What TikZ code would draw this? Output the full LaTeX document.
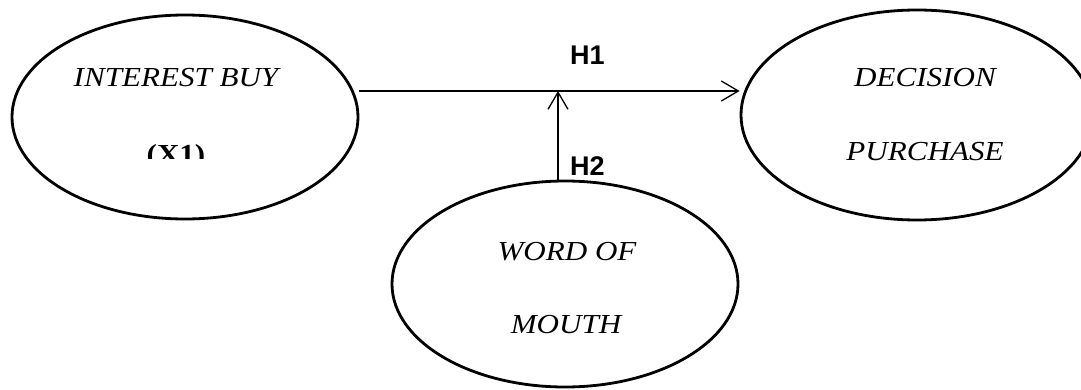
\documentclass[tikz,border=0pt]{standalone}
\usepackage{fontspec}
\setmainfont{Liberation Serif}
\newfontfamily\labfont{Liberation Serif}[FakeStretch=1.13]
\newfontfamily\hfont{Liberation Sans}
\usetikzlibrary{shapes.geometric,arrows.meta}
\tikzset{
  var/.style={ellipse, draw, line width=2.8pt, inner sep=0pt},
  lab/.style={anchor=base, inner sep=0pt, font=\labfont\itshape\fontsize{27.5}{30}\selectfont},
  hlab/.style={anchor=base west, inner sep=0pt, font=\hfont\bfseries\fontsize{27}{30}\selectfont},
  arr/.style={line width=1.3pt, -{Straight Barb[length=17pt,width=20pt,line width=1.3pt]}},
}
\begin{document}
\begin{tikzpicture}[x=1pt,y=1pt]
\clip (0,0) rectangle (1081,389);
\useasboundingbox (0,0) rectangle (1081,389);
% ellipses
\node[var, minimum width=346pt, minimum height=204pt] (L) at (185,272) {};
\node[var, minimum width=352pt, minimum height=210pt] (R) at (917,274) {};
\node[var, minimum width=346pt, minimum height=206pt] (B) at (565,105) {};
% texts
\node[lab] (t1) at (176,302) {INTEREST BUY};
\begin{scope}
\clip (100,231) rectangle (260,260);
\node[lab, font=\labfont\bfseries\fontsize{27.5}{30}\selectfont] (t2) at (176,226) {(X1)};
\end{scope}
\node[lab] (t3) at (925,302) {DECISION};
\node[lab] (t4) at (925,229) {PURCHASE};
\node[lab] (t5) at (567,129) {WORD OF};
\node[lab] (t6) at (566,56) {MOUTH};
% connectors
\coordinate (j) at (558,298);
\draw[arr] (L.east |- j) -- (R.west |- j);
\draw[arr] (j |- B.north) -- (j);
\node[hlab] (h1) at (570,324) {H1};
\node[hlab] (h2) at (570,214) {H2};
\end{tikzpicture}
\end{document}
